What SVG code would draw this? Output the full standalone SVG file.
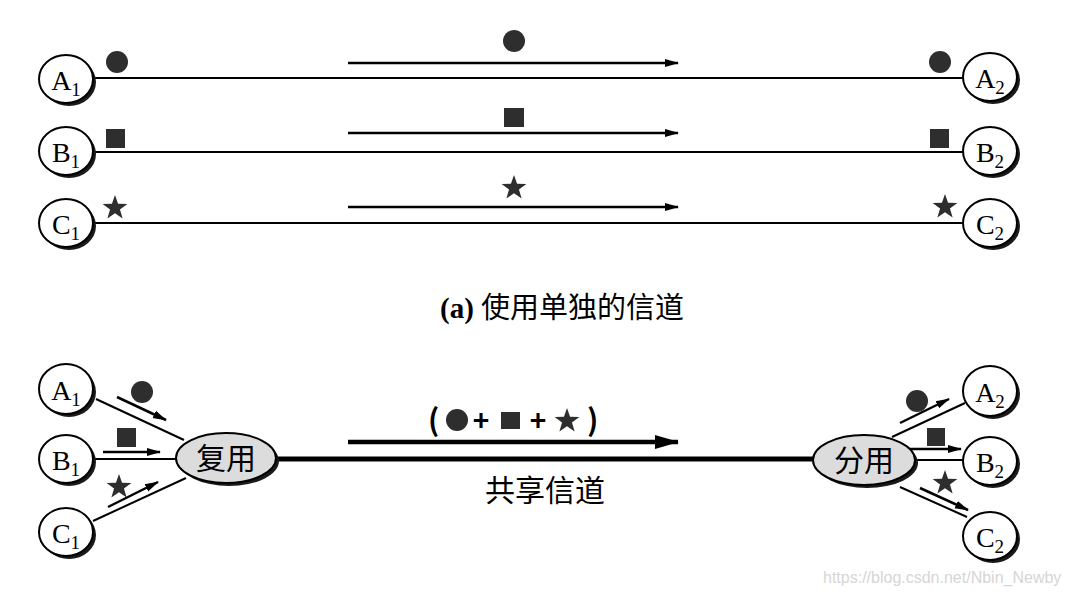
<svg xmlns="http://www.w3.org/2000/svg" width="1070" height="595" viewBox="0 0 1070 595">
<style>
.bg{fill:#fff}
.sh{fill:#1a1a1a}
.nd{fill:#fff;stroke:#000;stroke-width:2}
.mx{fill:#dcdcdc;stroke:#000;stroke-width:2}
.lb{font-family:"Liberation Serif","Times New Roman",serif;font-size:28px;fill:#000;text-anchor:middle}
.sub{font-size:19px}
.ln{stroke:#000;stroke-width:2;fill:none}
.ar{stroke:#000;stroke-width:2.5;fill:none;marker-end:url(#ah)}
.tk{stroke:#000;stroke-width:5;fill:none}
.tka{stroke:#000;stroke-width:4.5;fill:none;marker-end:url(#ahb)}
.sym{fill:#2e2e2e}
.cjk{font-family:"Noto Sans CJK SC","Noto Sans",sans-serif;fill:#000}
.cap{font-family:"Liberation Serif","Noto Sans CJK SC",serif;font-size:29px;fill:#000}
.wm{font-family:"Liberation Sans",Arial,sans-serif;font-size:16px;fill:#d6d6d6}
</style>
<defs>
<marker id="ah" markerWidth="14" markerHeight="10" refX="13" refY="5" orient="auto" markerUnits="userSpaceOnUse"><path d="M0,1 L14,5 L0,9 Z" fill="#000"/></marker>
<marker id="ahb" markerWidth="24" markerHeight="16" refX="23" refY="8" orient="auto" markerUnits="userSpaceOnUse"><path d="M0,1 L24,8 L0,15 Z" fill="#000"/></marker>
<path id="star" d="M0,-13 L3.06,-4.2 L12.36,-4.02 L4.95,1.6 L7.64,10.52 L0,5.2 L-7.64,10.52 L-4.95,1.6 L-12.36,-4.02 L-3.06,-4.2 Z"/>
</defs>
<rect class="bg" x="0" y="0" width="1070" height="595"/>

<!-- connectors -->
<g id="connectors">
  <!-- (a) separate channels -->
  <line class="ln" x1="92" y1="78" x2="965" y2="78"/>
  <line class="ln" x1="92" y1="152" x2="965" y2="152"/>
  <line class="ln" x1="92" y1="223" x2="965" y2="223"/>
  <line class="ar" x1="348" y1="63" x2="678" y2="63"/>
  <line class="ar" x1="348" y1="133" x2="678" y2="133"/>
  <line class="ar" x1="348" y1="207" x2="678" y2="207"/>
  <!-- (b) shared channel -->
  <line class="ln" x1="96" y1="399" x2="184" y2="440"/>
  <line class="ln" x1="93" y1="459" x2="177" y2="459"/>
  <line class="ln" x1="93" y1="521" x2="186" y2="478"/>
  <line class="ar" x1="117" y1="397" x2="166" y2="420"/>
  <line class="ar" x1="103" y1="452" x2="160" y2="452"/>
  <line class="ar" x1="108" y1="507" x2="158" y2="482"/>
  <line class="tk" x1="276" y1="459" x2="815" y2="459"/>
  <line class="tka" x1="348" y1="442" x2="678" y2="442"/>
  <line class="ln" x1="892" y1="437" x2="965" y2="403"/>
  <line class="ln" x1="914" y1="460" x2="964" y2="460"/>
  <line class="ln" x1="900" y1="487" x2="967" y2="517"/>
  <line class="ar" x1="900" y1="423" x2="949" y2="399"/>
  <line class="ar" x1="910" y1="449" x2="961" y2="449"/>
  <line class="ar" x1="920" y1="488" x2="968" y2="510"/>
</g>

<!-- symbols (a) -->
<g id="symbols-a">
  <circle class="sym" cx="117" cy="62" r="11"/>
  <rect class="sym" x="106" y="129" width="19" height="19"/>
  <use href="#star" class="sym" x="115" y="208"/>
  <circle class="sym" cx="940" cy="62" r="11"/>
  <rect class="sym" x="930" y="129" width="19" height="19"/>
  <use href="#star" class="sym" x="945" y="207"/>
  <circle class="sym" cx="514" cy="41" r="11"/>
  <rect class="sym" x="504" y="108" width="20" height="19"/>
  <use href="#star" class="sym" x="514" y="188"/>
</g>

<!-- nodes (a) -->
<g id="A1a"><ellipse class="sh" cx="69" cy="82" rx="27" ry="24"/><ellipse class="nd" cx="66" cy="79" rx="27" ry="24"/><text class="lb" x="66" y="90">A<tspan class="sub" dy="6">1</tspan></text></g>
<g id="B1a"><ellipse class="sh" cx="69" cy="154" rx="27" ry="24"/><ellipse class="nd" cx="66" cy="151" rx="27" ry="24"/><text class="lb" x="66" y="162">B<tspan class="sub" dy="6">1</tspan></text></g>
<g id="C1a"><ellipse class="sh" cx="69" cy="226" rx="27" ry="24"/><ellipse class="nd" cx="66" cy="223" rx="27" ry="24"/><text class="lb" x="66" y="234">C<tspan class="sub" dy="6">1</tspan></text></g>
<g id="A2a"><ellipse class="sh" cx="993" cy="80" rx="27" ry="24"/><ellipse class="nd" cx="990" cy="77" rx="27" ry="24"/><text class="lb" x="990" y="88">A<tspan class="sub" dy="6">2</tspan></text></g>
<g id="B2a"><ellipse class="sh" cx="993" cy="154" rx="27" ry="24"/><ellipse class="nd" cx="990" cy="151" rx="27" ry="24"/><text class="lb" x="990" y="162">B<tspan class="sub" dy="6">2</tspan></text></g>
<g id="C2a"><ellipse class="sh" cx="993" cy="226" rx="27" ry="24"/><ellipse class="nd" cx="990" cy="223" rx="27" ry="24"/><text class="lb" x="990" y="234">C<tspan class="sub" dy="6">2</tspan></text></g>

<text class="cap" x="440" y="318"><tspan font-weight="bold">(a)</tspan> <tspan class="cjk">使用单独的信道</tspan></text>

<!-- symbols (b) -->
<g id="symbols-b">
  <circle class="sym" cx="142" cy="392" r="11"/>
  <rect class="sym" x="117" y="428" width="19" height="19"/>
  <use href="#star" class="sym" x="119" y="487"/>
  <circle class="sym" cx="917" cy="401" r="11"/>
  <rect class="sym" x="927" y="428" width="18" height="18"/>
  <use href="#star" class="sym" x="945" y="483"/>
</g>
<g id="mux-label">
  <text class="cjk" x="428" y="431" font-size="30" font-weight="bold">(</text>
  <circle class="sym" cx="457" cy="420" r="11"/>
  <text class="cjk" x="481" y="431" font-size="28" font-weight="bold" text-anchor="middle">+</text>
  <rect class="sym" x="501" y="412" width="19" height="17"/>
  <text class="cjk" x="538" y="431" font-size="28" font-weight="bold" text-anchor="middle">+</text>
  <use href="#star" class="sym" x="567" y="421"/>
  <text class="cjk" x="587" y="431" font-size="30" font-weight="bold">)</text>
</g>
<text class="cjk" x="545" y="501" font-size="30" text-anchor="middle">共享信道</text>

<!-- nodes (b) -->
<g id="A1b"><ellipse class="sh" cx="69" cy="392" rx="27" ry="25"/><ellipse class="nd" cx="66" cy="389" rx="27" ry="25"/><text class="lb" x="66" y="400">A<tspan class="sub" dy="6">1</tspan></text></g>
<g id="B1b"><ellipse class="sh" cx="69" cy="462" rx="27" ry="24"/><ellipse class="nd" cx="66" cy="459" rx="27" ry="24"/><text class="lb" x="66" y="470">B<tspan class="sub" dy="6">1</tspan></text></g>
<g id="C1b"><ellipse class="sh" cx="69" cy="535" rx="27" ry="24"/><ellipse class="nd" cx="66" cy="532" rx="27" ry="24"/><text class="lb" x="66" y="543">C<tspan class="sub" dy="6">1</tspan></text></g>
<g id="mux"><ellipse class="sh" cx="229" cy="461" rx="50" ry="25"/><ellipse class="mx" cx="226" cy="458" rx="50" ry="25"/><text class="cjk" x="226" y="469" font-size="30" text-anchor="middle">复用</text></g>
<g id="demux"><ellipse class="sh" cx="867" cy="463" rx="51" ry="25"/><ellipse class="mx" cx="864" cy="460" rx="51" ry="25"/><text class="cjk" x="864" y="471" font-size="30" text-anchor="middle">分用</text></g>
<g id="A2b"><ellipse class="sh" cx="993" cy="394" rx="27" ry="25"/><ellipse class="nd" cx="990" cy="391" rx="27" ry="25"/><text class="lb" x="990" y="402">A<tspan class="sub" dy="6">2</tspan></text></g>
<g id="B2b"><ellipse class="sh" cx="993" cy="464" rx="27" ry="24"/><ellipse class="nd" cx="990" cy="461" rx="27" ry="24"/><text class="lb" x="990" y="472">B<tspan class="sub" dy="6">2</tspan></text></g>
<g id="C2b"><ellipse class="sh" cx="993" cy="539" rx="27" ry="24"/><ellipse class="nd" cx="990" cy="536" rx="27" ry="24"/><text class="lb" x="990" y="547">C<tspan class="sub" dy="6">2</tspan></text></g>

<text class="wm" x="823" y="583">https://blog.csdn.net/Nbin_Newby</text>
</svg>
